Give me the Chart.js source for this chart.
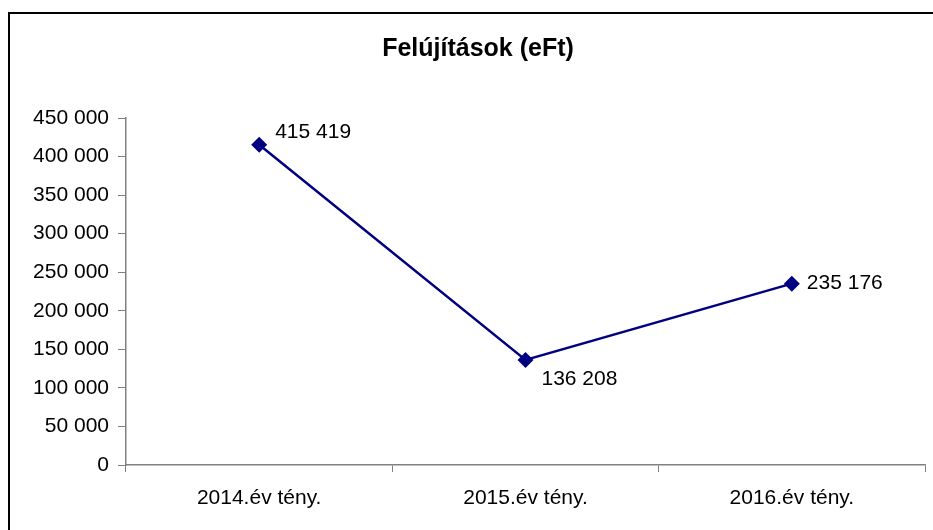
<!DOCTYPE html>
<html>
<head>
<meta charset="utf-8">
<script src="https://cdn.jsdelivr.net/npm/chart.js@4/dist/chart.umd.min.js"></script>
<style>
  html,body{margin:0;padding:0;background:#fff;overflow:hidden;}
  #wrap{position:relative;width:933px;height:530px;}
  #frame{position:absolute;left:8px;top:12px;width:1000px;height:600px;border:2px solid #000;box-sizing:border-box;}
  canvas{position:absolute;left:0;top:0;}
</style>
</head>
<body>
<div id="wrap">
  <div id="frame"></div>
  <canvas id="c" width="933" height="530"></canvas>
</div>
<script>
const categories = ['2014.év tény.', '2015.év tény.', '2016.év tény.'];
const felujitasok = [415419, 136208, 235176];
const yTicks = [0, 50000, 100000, 150000, 200000, 250000, 300000, 350000, 400000, 450000];

function fmt(v){ return String(v).replace(/\B(?=(\d{3})+(?!\d))/g, ' '); }

// label offsets (dx, dy) relative to each point, like the Excel labels
const labelOffsets = [[16,-12],[16,19],[15,0]];

const valueLabels = {
  id:'valueLabels',
  afterDatasetsDraw(chart){
    const ctx = chart.ctx;
    const meta = chart.getDatasetMeta(0);
    ctx.save();
    ctx.font = '21px "Liberation Sans", Arial, sans-serif';
    ctx.fillStyle = '#000';
    ctx.textAlign = 'left';
    ctx.textBaseline = 'middle';
    meta.data.forEach((pt,i)=>{
      const o = labelOffsets[i] || [14,0];
      ctx.fillText(fmt(felujitasok[i]), pt.x + o[0], pt.y + o[1]);
    });
    ctx.restore();
  }
};

new Chart(document.getElementById('c'), {
  type:'line',
  data:{
    labels: categories,
    datasets:[{
      label:'Felújítások',
      data: felujitasok,
      borderColor:'#000080',
      backgroundColor:'#000080',
      borderWidth:2.5,
      pointStyle:'rectRot',
      pointRadius:8,
      pointBorderWidth:0,
      tension:0
    }]
  },
  options:{
    responsive:false,
    animation:false,
    layout:{ padding:{ left:30, right:7, top:0, bottom:0 } },
    plugins:{
      legend:{ display:false },
      tooltip:{ enabled:false },
      title:{
        display:true,
        text:'Felújítások (eFt)',
        color:'#000',
        font:{ family:'"Liberation Sans", Arial, sans-serif', size:25, weight:'bold', lineHeight:1.2 },
        padding:{ top:34, bottom:54 }
      }
    },
    scales:{
      x:{
        offset:true,
        grid:{ offset:true, drawOnChartArea:false, drawTicks:true, tickLength:7, color:'#808080' },
        border:{ color:'#808080', width:1.5 },
        ticks:{ color:'#000', padding:14, maxRotation:0,
          font:{ family:'"Liberation Sans", Arial, sans-serif', size:21 } },
        afterFit(s){ s.height = 65; }
      },
      y:{
        min:0, max:450000,
        afterBuildTicks(s){ s.ticks = yTicks.map(v=>({value:v})); },
        grid:{ drawOnChartArea:false, drawTicks:true, tickLength:8, color:'#808080' },
        border:{ color:'#808080', width:1.5 },
        ticks:{ color:'#000', padding:9, callback:v=>fmt(v),
          font:{ family:'"Liberation Sans", Arial, sans-serif', size:21 } },
        afterFit(s){ s.width = 96; }
      }
    }
  },
  plugins:[valueLabels]
});
</script>
</body>
</html>
